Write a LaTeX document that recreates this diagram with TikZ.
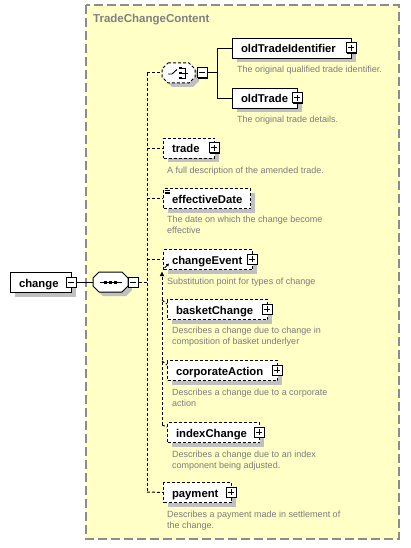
\documentclass[tikz,border=0pt]{standalone}
\usepackage{fontspec}
\setmainfont{Liberation Sans}
\usetikzlibrary{shadows,arrows.meta}
\definecolor{ybg}{HTML}{FFFFC6}
\definecolor{ybd}{HTML}{8C8C8C}
\definecolor{shd}{HTML}{C0C0C0}
\definecolor{dsc}{HTML}{7C7C7C}
\definecolor{ttl}{HTML}{808080}
\newcommand\mybox[7]{%
  \pgfmathsetmacro\myH{#6-#4}%
  \pgfmathsetmacro\myTW{#5-#3-17}%
  \node[#2, minimum height=\myH pt, text width=\myTW pt, anchor=north west] (#1) at (#3,#4) {#7};}
\begin{document}
\begin{tikzpicture}[x=1pt,y=-1pt,
  elem/.style={draw=black, fill=white, line width=1pt, inner xsep=8.5pt, inner ysep=0pt, align=left,
    text height=9.5pt, text depth=0.5pt, font=\fontsize{11.3}{13}\selectfont\bfseries,
    drop shadow={opacity=1, fill=shd, shadow xshift=4pt, shadow yshift=-4pt}},
  optelem/.style={elem, dash pattern=on 3pt off 2pt},
  btn/.style={draw=black, fill=white, line width=1pt, minimum size=10pt, inner sep=0pt,
    drop shadow={opacity=1, fill=black, shadow xshift=1pt, shadow yshift=-1pt}},
  plusbtn/.style={btn, path picture={\draw[line width=1pt] ([xshift=2pt]path picture bounding box.west) -- ([xshift=-2pt]path picture bounding box.east) ([yshift=-2pt]path picture bounding box.north) -- ([yshift=2pt]path picture bounding box.south);}},
  minusbtn/.style={btn, path picture={\draw[line width=1pt] ([xshift=2pt]path picture bounding box.west) -- ([xshift=-2pt]path picture bounding box.east);}},
  conn/.style={line width=1pt, draw=black},
  optconn/.style={conn, dash pattern=on 3pt off 2pt},
  desc/.style={anchor=north west, inner sep=0pt, align=left, text=dsc, font=\fontsize{9}{11.2}\selectfont},
  hid/.style={inner sep=0pt, minimum height=20pt}
]
\useasboundingbox (0,0) rectangle (410,548);
\fill[white] (0,0) rectangle (410,548);
% group box
\draw[draw=ybd, fill=ybg, line width=1.5pt, dash pattern=on 9pt off 4pt] (86,5) rectangle (399,539);
\node[anchor=base west, inner sep=0pt, text=ttl, font=\fontsize{11.5}{13}\selectfont\bfseries] (title) at (93,23) {TradeChangeContent};

% change element
\mybox{chg}{elem}{10}{272}{71}{292}{change}
\node[minusbtn] (m0) at (71,282) {};

% sequence compositor
\fill[shd] (103,276)--(126,276)--(132,282)--(132,290)--(126,296)--(103,296)--(97,290)--(97,282)--cycle;
\draw[conn, fill=white] (99,272)--(122,272)--(128,278)--(128,286)--(122,292)--(99,292)--(93,286)--(93,278)--cycle;
\node[hid, minimum width=35pt] (seq) at (110.5,282) {};
\draw[line width=1pt] (100,282) -- (121.5,282);
\fill (104.3,280.5) rectangle (107.3,283.5);
\fill (109,280.5) rectangle (112,283.5);
\fill (113.7,280.5) rectangle (116.7,283.5);
\node[minusbtn] (m1) at (133,282) {};
\draw[conn] (m0.east) -- (seq.west);

% choice compositor
\fill[shd] (172,67)--(193,67)--(199,73)--(199,81)--(193,87)--(172,87)--(166,81)--(166,73)--cycle;
\draw[optconn, fill=white] (168,63)--(189,63)--(195,69)--(195,77)--(189,83)--(168,83)--(162,77)--(162,69)--cycle;
\node[hid, minimum width=33pt] (cho) at (178.5,73) {};
\draw[line width=0.9pt] (168,74) -- (172,74) -- (177,69.5);
\fill (179,67) rectangle (181.5,69.5);
\fill (179,72) rectangle (181.5,74.5);
\fill (179,77) rectangle (181.5,79.5);
\draw[line width=0.9pt] (181.5,68.2) -- (185,68.2) -- (185,78.2) -- (181.5,78.2) (181.5,73.2) -- (188,73.2);
\node[minusbtn] (m2) at (202,73) {};

% choice children
\mybox{oti}{elem}{232}{38}{351}{58}{oldTradeIdentifier}
\node[plusbtn] (p1) at (351,48) {};
\node[desc] (d1) at (237,66.2) {The original qualified trade identifier.};
\mybox{ot}{elem}{232}{88}{297}{108}{oldTrade}
\node[plusbtn] (p2) at (297,98) {};
\node[desc] (d2) at (237,115.4) {The original trade details.};

% sequence children
\mybox{tr}{optelem}{163}{138}{214}{158}{trade}
\node[plusbtn] (p3) at (214,148) {};
\node[desc] (d3) at (167,166.7) {A full description of the amended trade.};

\mybox{ed}{optelem}{163}{188}{250}{208}{effectiveDate}
\draw[line width=0.7pt] (164.5,190.2) -- (169.5,190.2) (164.5,192) -- (169.5,192) (164.5,193.8) -- (169.5,193.8);
\node[desc] (d4) at (167,215.7) {The date on which the change become\\effective};

\mybox{ce}{optelem}{163}{249}{252}{269}{changeEvent}
\node[plusbtn] (p4) at (252,259) {};
\draw[line width=0.9pt, -{Triangle[length=2.8pt,width=3pt]}] (164.5,268) -- (169,263.5);
\node[desc] (d5) at (167,277.9) {Substitution point for types of change};

\mybox{bc}{optelem}{167}{299}{267}{319}{basketChange}
\node[plusbtn] (p5) at (267,309) {};
\node[desc] (d6) at (172,326.4) {Describes a change due to change in\\composition of basket underlyer};

\mybox{ca}{optelem}{167}{360}{277}{380}{corporateAction}
\node[plusbtn] (p6) at (277,370) {};
\node[desc] (d7) at (172,388.7) {Describes a change due to a corporate\\action};

\mybox{ic}{optelem}{167}{422}{259}{442}{indexChange}
\node[plusbtn] (p7) at (259,432) {};
\node[desc] (d8) at (172,450.4) {Describes a change due to an index\\component being adjusted.};

\mybox{pm}{optelem}{163}{482}{231}{502}{payment}
\node[plusbtn] (p8) at (231,492) {};
\node[desc] (d9) at (167,510.7) {Describes a payment made in settlement of\\the change.};

% sequence connectors
\coordinate (sj) at (147,282);
\coordinate (vt) at (147,73);
\coordinate (vb) at (147,492);
\draw[optconn] (m1.east) -- (sj);
\draw[optconn] (vt) -- (vb);
\draw[optconn] (vt) -- (cho.west);
\draw[optconn] (tr.west -| vt) -- (tr.west);
\draw[optconn] (ed.west -| vt) -- (ed.west);
\draw[optconn] (ce.west -| vt) -- (ce.west);
\draw[optconn] (vb) -- (pm.west);

% choice connectors
\coordinate (cj) at (217,73);
\draw[conn] (m2.east) -- (cj);
\draw[conn] (oti.west -| cj) -- (ot.west -| cj);
\draw[conn] (oti.west -| cj) -- (oti.west);
\draw[conn] (ot.west -| cj) -- (ot.west);

% substitution group connectors
\coordinate (st) at (162,271.5);
\coordinate (sb) at (162,425);
\coordinate (s1) at (162,300);
\coordinate (s2) at (162,361);
\draw[optconn, -{Triangle[length=4.5pt,width=4pt]}] (sb) -- (st);
\draw[optconn] (s1) -- ([yshift=-5pt]bc.north west);
\draw[optconn] (s2) -- ([yshift=-5pt]ca.north west);
\draw[optconn] (sb) -- ([yshift=-5pt]ic.north west);
\end{tikzpicture}
\end{document}
